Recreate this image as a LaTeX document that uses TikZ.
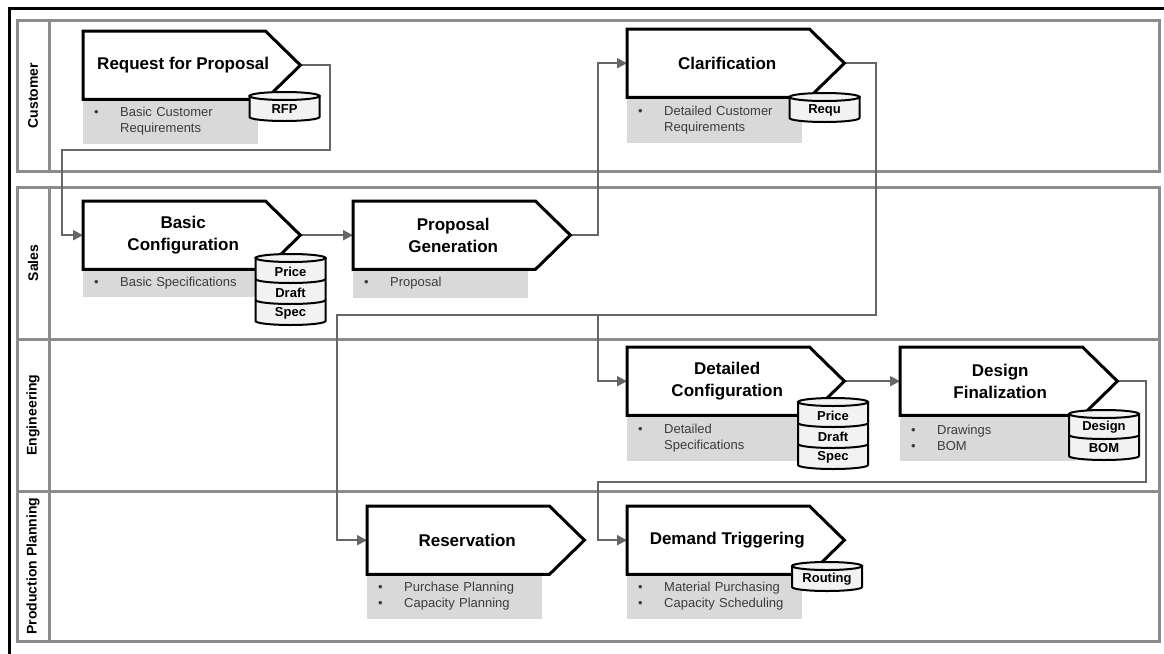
\documentclass[tikz,border=0pt]{standalone}
\usepackage{fontspec}
\setmainfont{Liberation Sans}
\usetikzlibrary{calc,arrows.meta}

\definecolor{lanegray}{HTML}{8C8C8C}
\definecolor{conngray}{HTML}{666666}
\definecolor{notegray}{HTML}{D9D9D9}
\definecolor{notetext}{HTML}{3C3C3C}
\definecolor{dbfill}{HTML}{F2F2F2}

\pgfdeclarelayer{background}
\pgfsetlayers{background,main}

\tikzset{
  lane/.style={draw=lanegray, line width=3pt},
  frame/.style={draw=black, line width=3pt},
  stepbody/.style={rectangle, draw=none, inner sep=0pt, minimum width=182pt, minimum height=68pt},
  stepline/.style={draw=black, fill=white, line width=3pt, line join=miter},
  steptitle/.style={font=\fontsize{17}{22}\selectfont\bfseries, align=center, inner sep=0pt},
  notebox/.style={rectangle, fill=notegray, inner xsep=11pt, inner ysep=0pt,
    text width=153pt, align=left, font=\fontsize{13}{16}\selectfont, text=notetext},
  conn/.style={draw=conngray, line width=2pt, -{Triangle[length=10pt,width=10pt]}},
  dbline/.style={draw=black, fill=dbfill, line width=2pt},
  dbsep/.style={draw=black, line width=2pt},
  dblabel/.style={font=\fontsize{13}{15}\selectfont\bfseries, inner sep=0pt},
  lanelabel/.style={rotate=90, font=\fontsize{14}{16}\selectfont\bfseries, inner sep=0pt},
}

% bullet and continuation indent for the note lines
\newcommand\bul{\makebox[26pt][l]{\textbullet}}
\newcommand\cont{\hspace*{26pt}}

% process step: name, left x, top y, title, note text, note height
\newcommand\procstep[6]{%
  \node[stepbody, anchor=north west] (#1) at (#2,#3) {};
  \coordinate (#1-tip) at ($(#1.east)+(35,0)$);
  \node[notebox, minimum height=#6pt, anchor=north west] (#1-note) at (#1.south west) {#5};
  \draw[stepline] (#1.north west) -- (#1.north east) -- (#1-tip) -- (#1.south east) -- (#1.south west) -- cycle;
  \node[steptitle] (#1-title) at ($(#1.center)+(9,0)$) {#4};
}

% data store: name, centre x, top y, number of sections, labels
\newcommand\dbstack[5]{%
  \begin{scope}[shift={(#2,#3+4)}]
    \pgfmathsetmacro\dbh{#4*21}
    \filldraw[dbline] (-35,0) -- (-35,\dbh) arc[start angle=180, end angle=360, x radius=35pt, y radius=4pt] -- (35,0) -- cycle;
    \filldraw[dbline] (0,0) ellipse[x radius=35pt, y radius=4pt];
    \foreach \lab [count=\k] in {#5} {
      \ifnum\k<#4
        \draw[dbsep] (-35,\k*21) arc[start angle=180, end angle=360, x radius=35pt, y radius=4pt];
      \fi
      \node[dblabel] (#1-\k) at (0,{(\k-0.5)*21+3}) {\lab};
    }
  \end{scope}
}

\begin{document}
\begin{tikzpicture}[x=1pt,y=-1pt]
\useasboundingbox (0,0) rectangle (1164,653);

% outer frame
\draw[frame] (1170,8) -- (9,8) -- (9,660);

% swimlanes
\begin{pgfonlayer}{background}
  \draw[lane] (17,20) rectangle (1159,171);
  \draw[lane] (49,20) -- (49,171);
  \draw[lane] (17,187) rectangle (1159,641);
  \draw[lane] (17,339) -- (1159,339);
  \draw[lane] (17,491) -- (1159,491);
  \draw[lane] (49,187) -- (49,641);
\end{pgfonlayer}

\node[lanelabel] (lab-cust) at (33,95.5) {Customer};
\node[lanelabel] (lab-sales) at (33,263) {Sales};
\node[lanelabel] (lab-eng) at (33,415) {Engineering};
\node[lanelabel] (lab-pp) at (33,566) {Production Planning};

% process steps
\procstep{rfp}{83}{31}{Request for Proposal}{\bul Basic Customer\\\cont Requirements}{44}
\procstep{clar}{627}{29}{Clarification}{\bul Detailed Customer\\\cont Requirements}{45}
\procstep{basic}{83}{201}{Basic\\Configuration}{\bul Basic Specifications}{27}
\procstep{prop}{353}{201}{Proposal\\Generation}{\bul Proposal}{28}
\procstep{det}{627}{347}{Detailed\\Configuration}{\bul Detailed\\\cont Specifications}{45}
\procstep{des}{900}{347}{Design\\Finalization}{\bul Drawings\\\bul BOM}{45}
\procstep{res}{367}{506}{Reservation}{\bul Purchase Planning\\\bul Capacity Planning}{44}
\procstep{dem}{627}{506}{Demand Triggering}{\bul Material Purchasing\\\bul Capacity Scheduling}{44}

% data stores
\dbstack{rfpdb}{284.5}{92}{1}{RFP}
\dbstack{requdb}{824.5}{93}{1}{Requ}
\dbstack{basicdb}{290.5}{254}{3}{Price,Draft,Spec}
\dbstack{detdb}{833}{398}{3}{Price,Draft,Spec}
\dbstack{desdb}{1104}{410}{2}{Design,BOM}
\dbstack{demdb}{827}{562}{1}{Routing}

% flow
\coordinate (split) at (598,315);
\begin{pgfonlayer}{background}
  \draw[conn] (rfp-tip) -- ++(30,0) |- (62,150) |- (basic.west);
  \draw[conn] (basic-tip) -- (prop.west);
  \draw[conn] (prop-tip) -- ++(28,0) |- (clar.west);
  \draw[conn] (clar-tip) -- ++(32,0) |- (337,315) |- (res.west);
  \draw[conn] (split) |- (det.west);
  \draw[conn] (det-tip) -- (des.west);
  \draw[conn] (des-tip) -- ++(29,0) |- (598,482) |- (dem.west);
\end{pgfonlayer}
\end{tikzpicture}
\end{document}
